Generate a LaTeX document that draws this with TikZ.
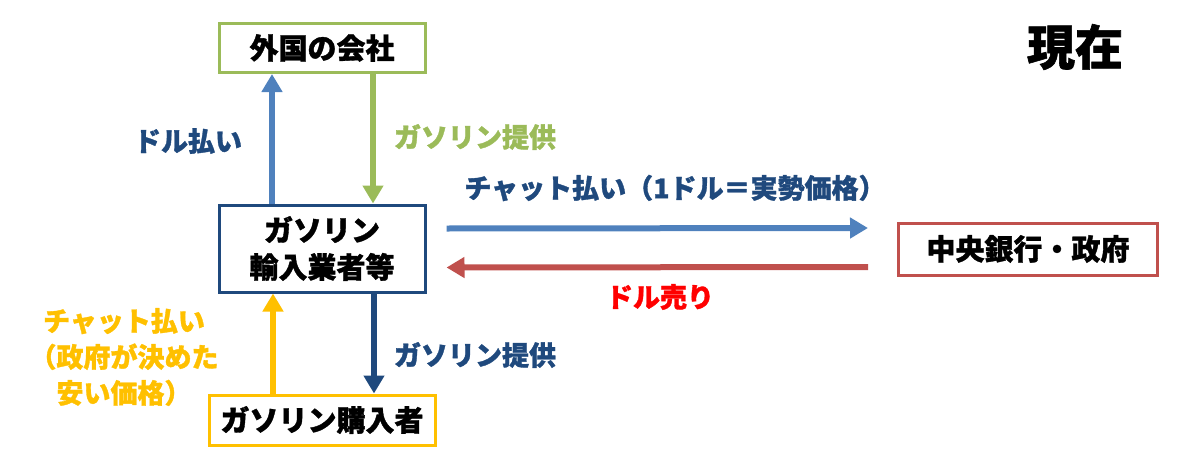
\documentclass[tikz,border=0pt]{standalone}
\usepackage{fontspec}
\setmainfont{Noto Sans CJK JP}[BoldFeatures={FakeBold=1.2}]
\usetikzlibrary{arrows.meta}
\definecolor{cgreen}{HTML}{9BBB59}
\definecolor{cdark}{HTML}{1F497D}
\definecolor{cblue}{HTML}{4F81BD}
\definecolor{cred}{HTML}{C0504D}
\definecolor{cyellow}{HTML}{FFC000}
\definecolor{cbright}{HTML}{FF0000}
\begin{document}
\begin{tikzpicture}[x=1pt,y=-1pt,
  box/.style={draw, line width=3pt, fill=white, align=center, inner sep=0pt,
    font=\fontsize{29}{37}\selectfont\bfseries},
  arr/.style={line width=6pt, -{Triangle[length=18pt,width=20pt]}},
  lbl/.style={font=\fontsize{27}{36}\selectfont\bfseries, inner sep=0pt, align=center}]
\useasboundingbox (0,0) rectangle (1200,458);
\node[box, draw=cgreen, minimum width=206pt, minimum height=49pt] (foreign) at (322,48) {外国の会社};
\node[box, draw=cdark, minimum width=206pt, minimum height=87pt] (importer) at (322,248.5) {ガソリン\\輸入業者等};
\node[box, draw=cyellow, minimum width=226pt, minimum height=50pt] (buyer) at (322,420) {ガソリン購入者};
\node[box, draw=cred, minimum width=259pt, minimum height=52pt] (cb) at (1028,249) {中央銀行・政府};
\node[font=\fontsize{48}{50}\selectfont\bfseries, inner sep=0pt] (now) at (1075,47) {現在};

\draw[arr, cblue] ([xshift=-50pt]importer.north) -- ([xshift=-50pt]foreign.south);
\draw[arr, cgreen] ([xshift=51pt]foreign.south) -- ([xshift=51pt]importer.north);
\draw[arr, cyellow] ([xshift=-49pt]buyer.north) -- ([xshift=-49pt]importer.south);
\draw[arr, cdark] ([xshift=52pt]importer.south) -- ([xshift=52pt]buyer.north);
\draw[arr, cblue] ([shift={(20pt,20pt)}]importer.east) -- ([shift={(-29pt,21pt)}]cb.west);
\draw[arr, cred] ([shift={(-29pt,-18pt)}]cb.west) -- ([shift={(20pt,-19pt)}]importer.east);

\node[lbl, text=cdark] (l1) at (188,141) {ドル払い};
\node[lbl, text=cgreen] (l2) at (475,137) {ガソリン提供};
\node[lbl, text=cdark] (l3) at (675,188) {チャット払い（1ドル＝実勢価格）};
\node[lbl, text=cbright] (l4) at (660,297) {ドル売り};
\node[lbl, text=cdark] (l5) at (475,355) {ガソリン提供};
\node[lbl, text=cyellow] (l6) at (124,357) {チャット払い\\（政府が決めた\\安い価格）};
\end{tikzpicture}
\end{document}
